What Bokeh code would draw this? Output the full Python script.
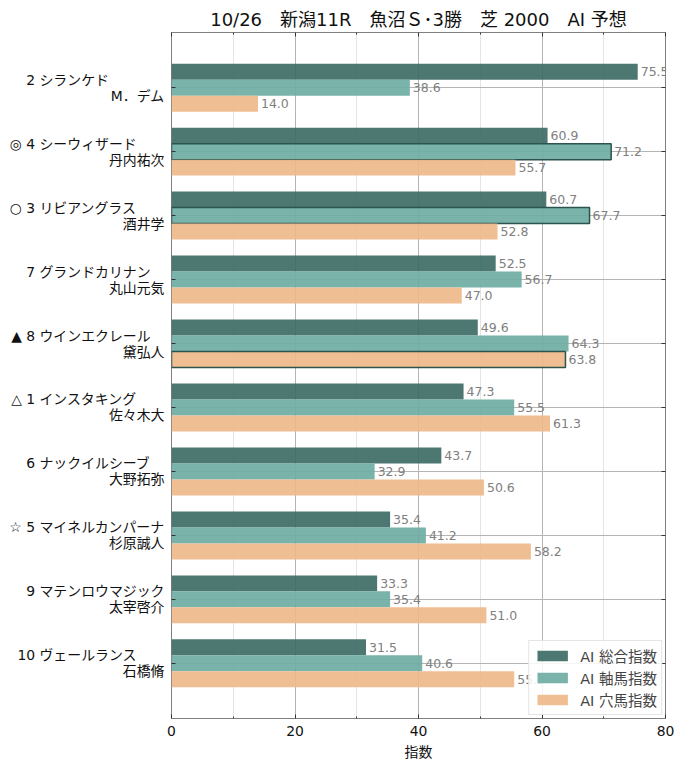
from bokeh.plotting import figure
from bokeh.models import (ColumnDataSource, Range1d, FixedTicker, LinearAxis,
                          LabelSet, Legend, LegendItem)
from bokeh.core.properties import value
from bokeh.embed import file_html
from bokeh.resources import INLINE

FONT = "DejaVu Sans, Noto Sans CJK JP"

title = "10/26　新潟11R　魚沼Ｓ･3勝　芝 2000　AI 予想"
marks = ["", "◎", "○", "", "▲", "△", "", "☆", "", ""]
numbers = ["2", "4", "3", "7", "8", "1", "6", "5", "9", "10"]
names = ["シランケド", "シーウィザード", "リビアングラス", "グランドカリナン", "ウインエクレール",
         "インスタキング", "ナックイルシーブ", "マイネルカンパーナ", "マテンロウマジック", "ヴェールランス"]
jockeys = ["M．デム", "丹内祐次", "酒井学", "丸山元気", "黛弘人",
           "佐々木大", "大野拓弥", "杉原誠人", "太宰啓介", "石橋脩"]

sogo = [75.5, 60.9, 60.7, 52.5, 49.6, 47.3, 43.7, 35.4, 33.3, 31.5]
jiku = [38.6, 71.2, 67.7, 56.7, 64.3, 55.5, 32.9, 41.2, 35.4, 40.6]
ana = [14.0, 55.7, 52.8, 47.0, 63.8, 61.3, 50.6, 58.2, 51.0, 55.5]

series_names = ["AI 総合指数", "AI 軸馬指数", "AI 穴馬指数"]
colors = ["#3e6c66", "#6eaca3", "#efb98a"]
# highlighted bars: (horse index, series index)
highlight = [(1, 1), (2, 1), (4, 2)]

x_ticks = [0, 20, 40, 60, 80]
x_minor = [10, 30, 50, 70]

n = len(names)
p = figure(width=680, height=762, output_backend="svg", toolbar_location=None,
           x_range=Range1d(0, 80), y_range=Range1d(n - 1 + 0.8625, -0.8625),
           min_border_left=171, min_border_right=15, min_border_top=32, min_border_bottom=44)

p.title.text = title
p.title.align = "center"
p.title.text_font = FONT
p.title.text_font_size = "18px"
p.title.text_font_style = "normal"
p.title.text_color = "#111111"
p.title.standoff = 5

p.outline_line_color = "#808080"
p.outline_line_width = 1

# grid
p.xgrid.grid_line_color = "#b4b4b4"
p.xgrid.minor_grid_line_color = "#e4e4e4"
p.ygrid.grid_line_color = "#b4b4b4"

xt = FixedTicker(ticks=x_ticks, minor_ticks=x_minor)
yt = FixedTicker(ticks=list(range(n)), minor_ticks=[])
p.xaxis.ticker = xt
p.yaxis.ticker = yt
p.xgrid.ticker = xt
p.ygrid.ticker = yt

for ax in p.xaxis:
    ax.axis_line_color = None
    ax.major_tick_in = 4
    ax.major_tick_out = 0
    ax.minor_tick_in = 2
    ax.minor_tick_out = 0
    ax.major_tick_line_color = "#333333"
    ax.minor_tick_line_color = "#333333"
    ax.major_label_text_font = FONT
    ax.major_label_text_font_size = "13.9px"
    ax.major_label_text_color = "#111111"
    ax.major_label_standoff = 7
    ax.axis_label = "指数"
    ax.axis_label_text_font = FONT
    ax.axis_label_text_font_size = "13.9px"
    ax.axis_label_text_font_style = "normal"
    ax.axis_label_text_color = "#111111"
    ax.axis_label_standoff = 5

# horse / jockey tick labels
overrides = {}
for i, (m, num, nm, jk) in enumerate(zip(marks, numbers, names, jockeys)):
    l1 = (m + " " if m else "") + num + " " + nm + "　" * (9 - len(nm))
    overrides[i] = l1 + "\n" + jk

for ax in p.yaxis:
    ax.axis_line_color = None
    ax.major_tick_in = 4
    ax.major_tick_out = 0
    ax.minor_tick_line_color = None
    ax.major_tick_line_color = "#333333"
    ax.major_label_overrides = overrides
    ax.major_label_text_font = FONT
    ax.major_label_text_font_size = "13.9px"
    ax.major_label_text_color = "#111111"
    ax.major_label_text_line_height = 1.0
    ax.major_label_standoff = 7

top_ax = LinearAxis(ticker=xt, axis_line_color=None, major_tick_in=4, major_tick_out=0,
                    minor_tick_in=2, minor_tick_out=0, major_tick_line_color="#333333",
                    minor_tick_line_color="#333333", major_label_text_font_size="1px",
                    major_label_text_color=None, major_label_standoff=0)
p.add_layout(top_ax, "above")
right_ax = LinearAxis(ticker=yt, axis_line_color=None, major_tick_in=4, major_tick_out=0,
                      minor_tick_line_color=None, major_tick_line_color="#333333",
                      major_label_text_font_size="1px", major_label_text_color=None,
                      major_label_standoff=0)
p.add_layout(right_ax, "right")

renderers = []
offsets = [-0.25, 0.0, 0.25]
for s, vals in enumerate([sogo, jiku, ana]):
    ys = [i + offsets[s] for i in range(n)]
    la = [1.0 if (i, s) in highlight else 0.0 for i in range(n)]
    src = ColumnDataSource(dict(y=ys, right=vals, la=la,
                                txt=[f"{v:.1f}" for v in vals]))
    r = p.hbar(y="y", left=0, right="right", height=0.25, source=src,
               fill_color=colors[s], fill_alpha=0.92,
               line_color="#2c534e", line_alpha="la", line_width=1.5)
    renderers.append(r)
    p.add_layout(LabelSet(x="right", y="y", text="txt", source=src, x_offset=3,
                          text_baseline="middle", text_align="left",
                          text_font=value(FONT), text_font_size=value("12.5px"),
                          text_color=value("#808080")))

legend = Legend(items=[LegendItem(label=series_names[k], renderers=[renderers[k]], index=0)
                       for k in range(3)],
                location="bottom_right", margin=3, padding=4, spacing=1,
                glyph_width=38, glyph_height=13, label_height=20, label_standoff=9,
                label_text_font=FONT, label_text_font_size="14.5px",
                border_line_color="#cccccc", background_fill_alpha=0.85)
p.add_layout(legend)

open("out.html", "w").write(file_html(p, INLINE))
